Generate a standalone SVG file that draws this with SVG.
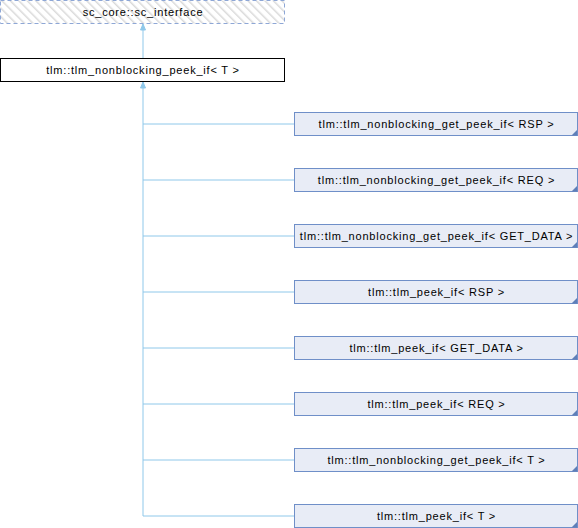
<svg xmlns="http://www.w3.org/2000/svg" width="578" height="528" viewBox="0 0 578 528">
<style>
text{font-family:"Liberation Sans",Arial,sans-serif;font-size:11px;letter-spacing:0.8px;fill:#000;text-anchor:middle}
.child rect{fill:#E8ECF6;stroke:#6F8FC8;stroke-width:1}
.child path{fill:#5F7FB8;stroke:none}
.edge{fill:none;stroke:#8FC8EA;stroke-width:1}
</style>
<defs>
<pattern id="hatch" width="6" height="6" patternUnits="userSpaceOnUse" patternTransform="rotate(-45)">
<rect width="6" height="6" fill="#fff"/>
<line x1="0" y1="0" x2="0" y2="6" stroke="#DADADA" stroke-width="3"/>
</pattern>
<marker id="arr" markerWidth="10" markerHeight="10" refX="8" refY="5" orient="auto" markerUnits="userSpaceOnUse">
<path d="M2,2.5 L8,5 L2,7.5 Z" fill="#8FC8EA" stroke="#8FC8EA"/>
</marker>
</defs>
<g id="edges">
<path class="edge" d="M143,58 V24" marker-end="url(#arr)"/>
<path class="edge" d="M143,516 V82" marker-end="url(#arr)"/>
<path class="edge" d="M143,124 H294"/>
<path class="edge" d="M143,180 H294"/>
<path class="edge" d="M143,236 H294"/>
<path class="edge" d="M143,292 H294"/>
<path class="edge" d="M143,348 H294"/>
<path class="edge" d="M143,404 H294"/>
<path class="edge" d="M143,460 H294"/>
<path class="edge" d="M143,516 H294"/>
</g>
<g id="sc_interface">
<rect x="0.5" y="0.5" width="284" height="23" fill="url(#hatch)" stroke="#8EA7D6" stroke-dasharray="4,3"/>
<text x="143" y="16">sc_core::sc_interface</text>
</g>
<g id="nonblocking_peek_if_T">
<rect x="0.5" y="58.5" width="284" height="23" fill="#fff" stroke="#000"/>
<text x="143" y="74">tlm::tlm_nonblocking_peek_if&lt; T &gt;</text>
</g>
<g id="c1" class="child"><rect x="294.5" y="112.5" width="283" height="23"/><path d="M577,130 V135.5 H571.5 Z"/><text x="436.5" y="128">tlm::tlm_nonblocking_get_peek_if&lt; RSP &gt;</text></g>
<g id="c2" class="child"><rect x="294.5" y="168.5" width="283" height="23"/><path d="M577,186 V191.5 H571.5 Z"/><text x="436.5" y="184">tlm::tlm_nonblocking_get_peek_if&lt; REQ &gt;</text></g>
<g id="c3" class="child"><rect x="294.5" y="224.5" width="283" height="23"/><path d="M577,242 V247.5 H571.5 Z"/><text x="436.5" y="240">tlm::tlm_nonblocking_get_peek_if&lt; GET_DATA &gt;</text></g>
<g id="c4" class="child"><rect x="294.5" y="280.5" width="283" height="23"/><path d="M577,298 V303.5 H571.5 Z"/><text x="436.5" y="296">tlm::tlm_peek_if&lt; RSP &gt;</text></g>
<g id="c5" class="child"><rect x="294.5" y="336.5" width="283" height="23"/><path d="M577,354 V359.5 H571.5 Z"/><text x="436.5" y="352">tlm::tlm_peek_if&lt; GET_DATA &gt;</text></g>
<g id="c6" class="child"><rect x="294.5" y="392.5" width="283" height="23"/><path d="M577,410 V415.5 H571.5 Z"/><text x="436.5" y="408">tlm::tlm_peek_if&lt; REQ &gt;</text></g>
<g id="c7" class="child"><rect x="294.5" y="448.5" width="283" height="23"/><path d="M577,466 V471.5 H571.5 Z"/><text x="436.5" y="464">tlm::tlm_nonblocking_get_peek_if&lt; T &gt;</text></g>
<g id="c8" class="child"><rect x="294.5" y="504.5" width="283" height="23"/><path d="M577,522 V527.5 H571.5 Z"/><text x="436.5" y="520">tlm::tlm_peek_if&lt; T &gt;</text></g>
</svg>
